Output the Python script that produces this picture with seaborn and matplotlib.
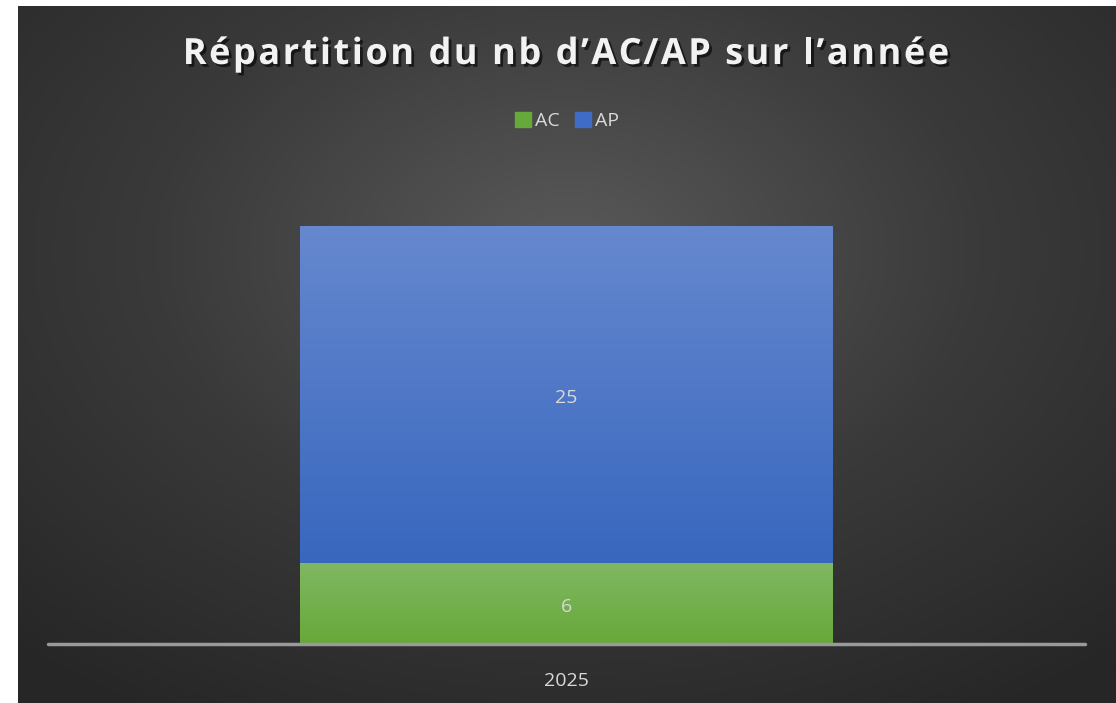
import numpy as np
import pandas as pd
import matplotlib
matplotlib.use("Agg")
import matplotlib.pyplot as plt
import matplotlib.patheffects as pe
from matplotlib.colors import LinearSegmentedColormap
import seaborn as sns

years = ["2025"]
ac_values = [6]
ap_values = [25]
series_names = ["AC", "AP"]
title = "Répartition du nb d’AC/AP sur l’année"

green_top, green_bot = "#80b862", "#67a83a"
blue_top, blue_bot = "#6688cf", "#2d5fba"
text_col = "#d9d9d9"

sns.set_theme(style="dark")
plt.rcParams["font.family"] = ["Open Sans", "DejaVu Sans"]

W, H = 1116, 703
fig = plt.figure(figsize=(W / 100, H / 100), dpi=100, facecolor="white")

# dark radial gradient background
bg = fig.add_axes([18 / W, 0, (W - 18) / W, (H - 6) / H])
bg.set_axis_off()
yy, xx = np.mgrid[0:400, 0:600]
cx, cy = 300, 140
r = np.sqrt(((xx - cx) / 600) ** 2 + ((yy - cy) / 420) ** 2)
r = np.clip(r / 0.75, 0, 1)
bg_cmap = LinearSegmentedColormap.from_list("bg", ["#595959", "#3a3a3a", "#262626"])
bg.imshow(r, cmap=bg_cmap, aspect="auto", extent=[0, 1, 0, 1], origin="upper")
bg.set_xlim(0, 1)
bg.set_ylim(0, 1)

# plot axes: bottom at y=644
px_per_unit = (644 - 226) / 31
ymax = 35
ax_bottom = (H - 644) / H
ax_height = ymax * px_per_unit / H
ax = fig.add_axes([48 / W, ax_bottom, (1085 - 48) / W, ax_height])
ax.patch.set_alpha(0)

df = pd.DataFrame({"year": years, "AC": ac_values, "AP": ap_values})
df["total"] = df["AC"] + df["AP"]
bar_w = 533 / (1085 - 48)

sns.barplot(data=df, x="year", y="total", color=blue_bot, width=bar_w, ax=ax, zorder=2, linewidth=0)
sns.barplot(data=df, x="year", y="AC", color=green_bot, width=bar_w, ax=ax, zorder=3, linewidth=0)

# vertical gradient fills for the bars
grad = np.linspace(0, 1, 256).reshape(-1, 1)
for patch, (c_top, c_bot) in zip(ax.patches, [(blue_top, blue_bot), (green_top, green_bot)]):
    x0, y0 = patch.get_x(), patch.get_y()
    w, h = patch.get_width(), patch.get_height()
    cmap = LinearSegmentedColormap.from_list("g", [c_top, c_bot])
    im = ax.imshow(grad, cmap=cmap, aspect="auto", extent=[x0, x0 + w, y0, y0 + h],
                   origin="upper", zorder=patch.get_zorder() + 0.1)
    im.set_clip_path(patch)

ax.set_xlim(-0.5, 0.5)
ax.set_ylim(0, ymax)
for s in ax.spines.values():
    s.set_visible(False)
ax.axhline(0, color="#9a9a9a", lw=2.5, zorder=5, clip_on=False)
ax.set_yticks([])
ax.set_xlabel("")
ax.set_ylabel("")
ax.tick_params(axis="x", length=0, pad=20, labelsize=14, labelcolor=text_col)
ax.grid(False)

# data labels
for i in range(len(years)):
    ax.text(i, ac_values[i] / 2 - 0.25, str(ac_values[i]), ha="center", va="center",
            color=text_col, fontsize=14, zorder=6)
    ax.text(i, ac_values[i] + ap_values[i] / 2 - 0.25, str(ap_values[i]), ha="center", va="center",
            color=text_col, fontsize=14, zorder=6)

# title with letter spacing, drawn character by character
renderer = fig.canvas.get_renderer()
t_kw = dict(fontsize=26, fontweight="bold", color="#f2f2f2",
            path_effects=[pe.withSimplePatchShadow(offset=(2, -2), shadow_rgbFace="black", alpha=0.6)])
spacing = 2.5
probe = fig.text(0, 0, "", **t_kw)
prefix_w = []
for i in range(len(title) + 1):
    probe.set_text(title[:i] + "|")
    w_bar = probe.get_window_extent(renderer).width
    probe.set_text("|")
    w_pipe = probe.get_window_extent(renderer).width
    prefix_w.append(w_bar - w_pipe)
probe.remove()
total_w = prefix_w[-1] + spacing * (len(title) - 1)
left = 566 - total_w / 2
for i, ch in enumerate(title):
    fig.text((left + prefix_w[i] + spacing * i) / W, 1 - 55 / H, ch, ha="left", va="center", **t_kw)

# legend
handles = [plt.Rectangle((0, 0), 1, 1, color=green_bot), plt.Rectangle((0, 0), 1, 1, color="#3f6cc6")]
fig.legend(handles, series_names, loc="center", bbox_to_anchor=(567 / W, 1 - 121 / H), ncol=2,
           frameon=False, fontsize=14, labelcolor=text_col, handlelength=0.8, handleheight=0.8,
           handletextpad=0.2, columnspacing=0.8)

fig.savefig("out.png", dpi=100, facecolor=fig.get_facecolor())
